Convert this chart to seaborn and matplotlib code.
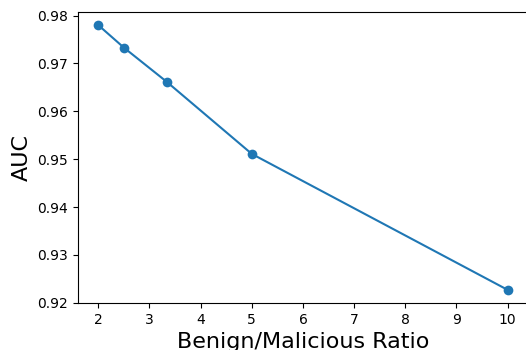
# AUC vs benign/malicious ratio

import matplotlib
matplotlib.use('Agg')
import matplotlib.pyplot as plt
import seaborn as sns
import pandas as pd

# data
ratio = [2, 2.5, 3.333, 5, 10]
auc = [0.9780, 0.9733, 0.9662, 0.9511, 0.9227]

df = pd.DataFrame({'ratio': ratio, 'auc': auc})

fig = plt.figure(figsize=(5.26, 3.5), dpi=100)
ax = fig.add_axes([0.148, 0.134, 0.856, 0.832])

sns.lineplot(data=df, x='ratio', y='auc', marker='o', markersize=7,
             markeredgewidth=0, color='#1f77b4', linewidth=1.5, ax=ax)

ax.set_xticks([2, 3, 4, 5, 6, 7, 8, 9, 10])
ax.set_yticks([0.92, 0.93, 0.94, 0.95, 0.96, 0.97, 0.98])
ax.tick_params(labelsize=10)
ax.set_xlabel('Benign/Malicious Ratio', fontsize=16)
ax.set_ylabel('AUC', fontsize=16)

plt.savefig('out.png', dpi=100)
